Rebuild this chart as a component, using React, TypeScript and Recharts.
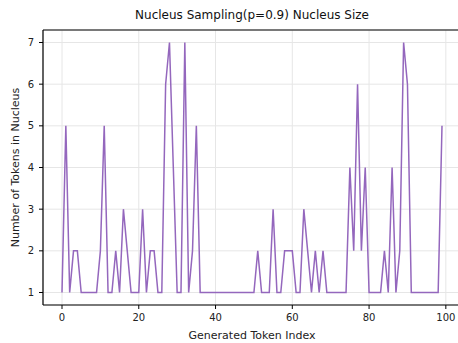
import { LineChart, Line, XAxis, YAxis, CartesianGrid, ReferenceLine } from 'recharts'

const tokenIndex: number[] = Array.from({ length: 100 }, (_, i) => i)

const nucleusSize: number[] = [
  1, 5, 1, 2, 2, 1, 1, 1, 1, 1,
  2, 5, 1, 1, 2, 1, 3, 2, 1, 1,
  1, 3, 1, 2, 2, 1, 1, 6, 7, 4,
  1, 1, 7, 1, 2, 5, 1, 1, 1, 1,
  1, 1, 1, 1, 1, 1, 1, 1, 1, 1,
  1, 2, 1, 1, 1, 3, 1, 1, 2, 2,
  2, 1, 1, 3, 2, 1, 2, 1, 2, 1,
  1, 1, 1, 1, 1, 4, 2, 6, 2, 4,
  1, 1, 1, 1, 2, 1, 4, 1, 2, 7,
  6, 1, 1, 1, 1, 1, 1, 1, 1, 5,
]

const xTicks = [0, 20, 40, 60, 80, 100]
const yTicks = [1, 2, 3, 4, 5, 6, 7]

const data = tokenIndex.map((idx, i) => ({ idx, size: nucleusSize[i] }))

const font = '"DejaVu Sans", sans-serif'
const tickStyle = { fill: '#222', fontSize: 10, fontFamily: font }

export default function App() {
  return (
    <div
      style={{
        position: 'absolute',
        left: 0,
        top: 0,
        width: 458,
        height: 343,
        overflow: 'hidden',
        background: '#fff',
      }}
    >
      <div
        style={{
          position: 'absolute',
          left: 43,
          width: 418,
          top: 8,
          textAlign: 'center',
          fontFamily: font,
          fontSize: 12,
          color: '#111',
        }}
      >
        Nucleus Sampling(p=0.9) Nucleus Size
      </div>
      <LineChart
        width={470}
        height={343}
        data={data}
        margin={{ top: 30, right: 9, bottom: 0, left: 0 }}
      >
        <CartesianGrid stroke="#e6e6e6" />
        <XAxis
          dataKey="idx"
          type="number"
          domain={[-4.95, 103.95]}
          ticks={xTicks}
          height={38}
          tickSize={4}
          tickMargin={5}
          tick={tickStyle}
          axisLine={{ stroke: '#000', strokeWidth: 1.2 }}
          tickLine={{ stroke: '#000' }}
          label={{
            value: 'Generated Token Index',
            position: 'insideBottom',
            offset: 4,
            style: { fill: '#222', fontSize: 11, fontFamily: font },
          }}
        />
        <YAxis
          type="number"
          domain={[0.7, 7.3]}
          ticks={yTicks}
          width={43}
          tickSize={4}
          tickMargin={5}
          tick={tickStyle}
          axisLine={{ stroke: '#000', strokeWidth: 1.2 }}
          tickLine={{ stroke: '#000' }}
          label={{
            value: 'Number of Tokens in Nucleus',
            angle: -90,
            position: 'insideLeft',
            offset: 15,
            style: { textAnchor: 'middle', fill: '#222', fontSize: 11, fontFamily: font },
          }}
        />
        <ReferenceLine y={7.3} stroke="#000" strokeWidth={1.2} ifOverflow="visible" />
        <Line
          type="linear"
          dataKey="size"
          stroke="#9467bd"
          strokeWidth={1.5}
          dot={false}
          isAnimationActive={false}
        />
      </LineChart>
    </div>
  )
}
